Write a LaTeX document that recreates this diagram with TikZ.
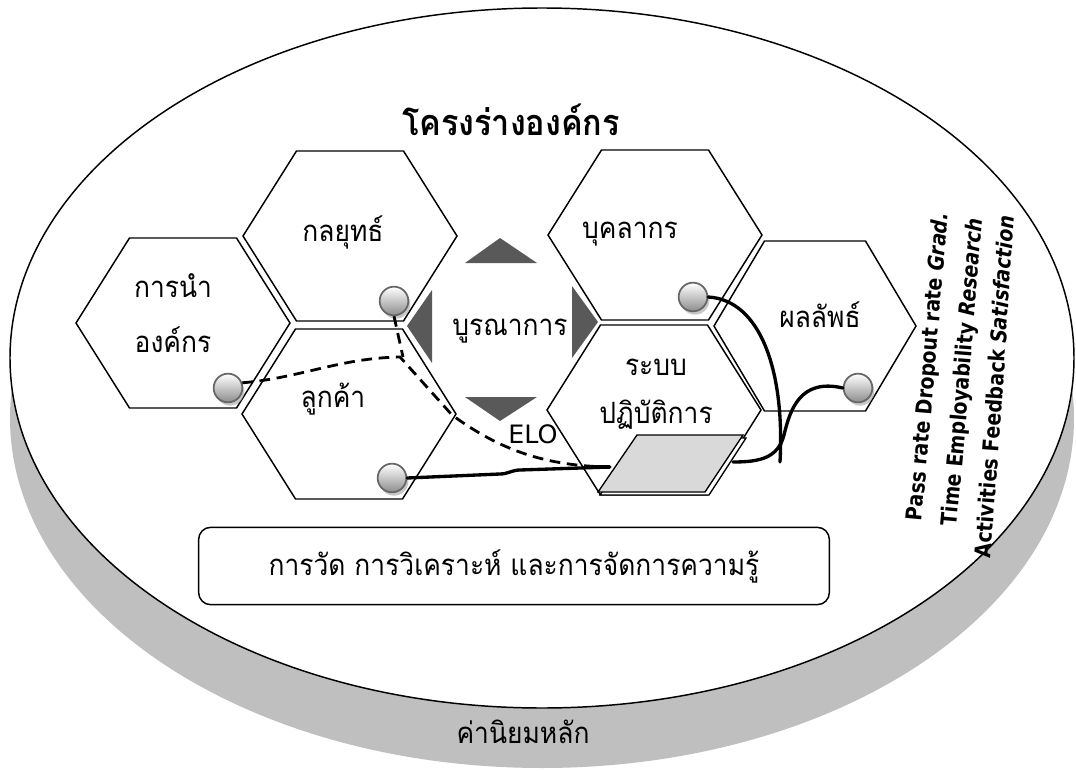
\documentclass[tikz,border=0pt]{standalone}
\usepackage{fontspec}
\newfontfamily\thaifont[Script=Thai,FakeStretch=0.9]{Loma}
\newfontfamily\latinfont{DejaVu Sans}
\newfontfamily\strettofont[FakeStretch=0.86]{DejaVu Sans}
\usepackage{tikz}
\usetikzlibrary{decorations.text,shadows}
\newcommand{\indfont}{\strettofont\fontsize{16.5}{20}\selectfont\bfseries}
\tikzstyle{esagono} = [draw=black,line width=1.1pt,fill=white]
\tikzstyle{etichetta} = [font=\thaifont\fontsize{22}{26}\selectfont,inner sep=0pt,anchor=base]
\tikzstyle{freccia} = [fill=black!65]
\tikzstyle{pallina} = [circle,draw=black!60,line width=1.3pt,top color=white,bottom color=black!45,minimum size=21.5pt,inner sep=0pt,drop shadow={shadow xshift=1.5pt,shadow yshift=-2.5pt,fill=black!30,opacity=0.7}]
\tikzstyle{filo} = [line width=2.5pt,line cap=round]
\tikzstyle{tratteggio} = [line width=2.1pt,dash pattern=on 8pt off 5pt]
\tikzstyle{curva} = [decorate,decoration={text along path,text align=center,text={#1}}]
\begin{document}
\begin{tikzpicture}[x=0.75pt,y=-0.75pt]
\tikzstyle{every node}=[font=\thaifont]
\useasboundingbox (0,0) rectangle (1076,771);

% disco di base
\fill[black!25] (542,418) ellipse [x radius=532,y radius=350];
\draw[line width=1.1pt,fill=white] (542,358) ellipse [x radius=532,y radius=350];

% esagoni
\coordinate (E1) at (183,323);
\coordinate (E2) at (350,236);
\coordinate (E3) at (349,414);
\coordinate (E4) at (655,235);
\coordinate (E5) at (654,410);
\coordinate (E6) at (815,326);
\foreach \c/\r in {E1/107,E2/107,E3/107,E4/107,E5/107,E6/101}
  \draw[esagono] (\c) +(-\r,0) -- +(-\r/2,-85) -- +(\r/2,-85) -- +(\r,0) -- +(\r/2,85) -- +(-\r/2,85) -- cycle;

% frecce intorno al centro
\fill[freccia] (500,238) -- (537,263) -- (465,263) -- cycle;
\fill[freccia] (465,397) -- (537,397) -- (500,421) -- cycle;
\fill[freccia] (432,290) -- (432,363) -- (407,326) -- cycle;
\fill[freccia] (572,286) -- (572,358) -- (598,322) -- cycle;

% tavoletta
\draw[line width=1pt,fill=white] (640,438) -- (746,438) -- (709,495) -- (600,495) -- cycle;
\draw[line width=1pt,fill=black!15] (637,435) -- (743,435) -- (705,492) -- (598,492) -- cycle;
\coordinate (TABl) at (610,467);
\coordinate (TABr) at (733,462);

% testi
\node (TIT) [font=\thaifont\bfseries\fontsize{27}{32}\selectfont,anchor=base] at (511,135) {โครงร่างองค์กร};
\node (L1a) [etichetta] at (173,297) {การนำ};
\node (L1b) [etichetta] at (173,352) {องค์กร};
\node (L2)  [etichetta] at (343,241) {กลยุทธ์};
\node (L3)  [etichetta] at (333,407) {ลูกค้า};
\node (L4)  [etichetta] at (630,238) {บุคลากร};
\node (L5a) [etichetta] at (656,375) {ระบบ};
\node (L5b) [etichetta] at (656,423) {ปฏิบัติการ};
\node (L6)  [etichetta] at (820,327) {ผลลัพธ์};
\node (INT) [etichetta] at (510,335) {บูรณาการ};
\node (ELO) [font=\latinfont\fontsize{19}{22}\selectfont,anchor=base,inner sep=0pt] at (533,443) {ELO};

\node (KM) [draw,line width=1.1pt,rounded corners=9pt,minimum width=473pt,minimum height=58pt,font=\thaifont\fontsize{22}{26}\selectfont] at (514,566) {การวัด การวิเคราะห์ และการจัดการความรู้};
\node (VAL) [etichetta] at (523,743) {ค่านิยมหลัก};

% indicatori
\path[curva={|\indfont|Pass rate Dropout rate |\indfont\itshape|Grad.}] (918,560) .. controls (933,400) .. (951,175);
\path[curva={|\indfont|Time Employability |\indfont\itshape|Research}] (953,565) .. controls (968,405) .. (985,180);
\path[curva={|\indfont|Activities Feedback |\indfont\itshape|Satisfaction}] (988,590) .. controls (1002,410) .. (1016,185);

% palline
\node (P1) [pallina] at (394,301) {};
\node (P2) [pallina] at (228,388) {};
\node (P3) [pallina] at (392,478) {};
\node (P4) [pallina] at (693,297) {};
\node (P5) [pallina] at (858,388) {};

% collegamenti
\draw[tratteggio] (P2.20) .. controls (300,378) and (340,358) .. (400,357) -- (452,415) .. controls (500,450) and (545,466) .. (TABl);
\draw[tratteggio] (P1.south) -- (403,357);
\draw[line width=3pt] (594,467) -- (TABl);
\draw[filo] (P3.east) -- (500,474) .. controls (508,474) and (512,470) .. (520,470) -- (TABl);
\draw[filo] (P4.east) .. controls (760,300) and (785,370) .. (780,462);
\draw[filo] (P5.west) .. controls (800,378) and (790,410) .. (784,435) .. controls (778,458) and (760,462) .. (TABr);
\end{tikzpicture}
\end{document}
